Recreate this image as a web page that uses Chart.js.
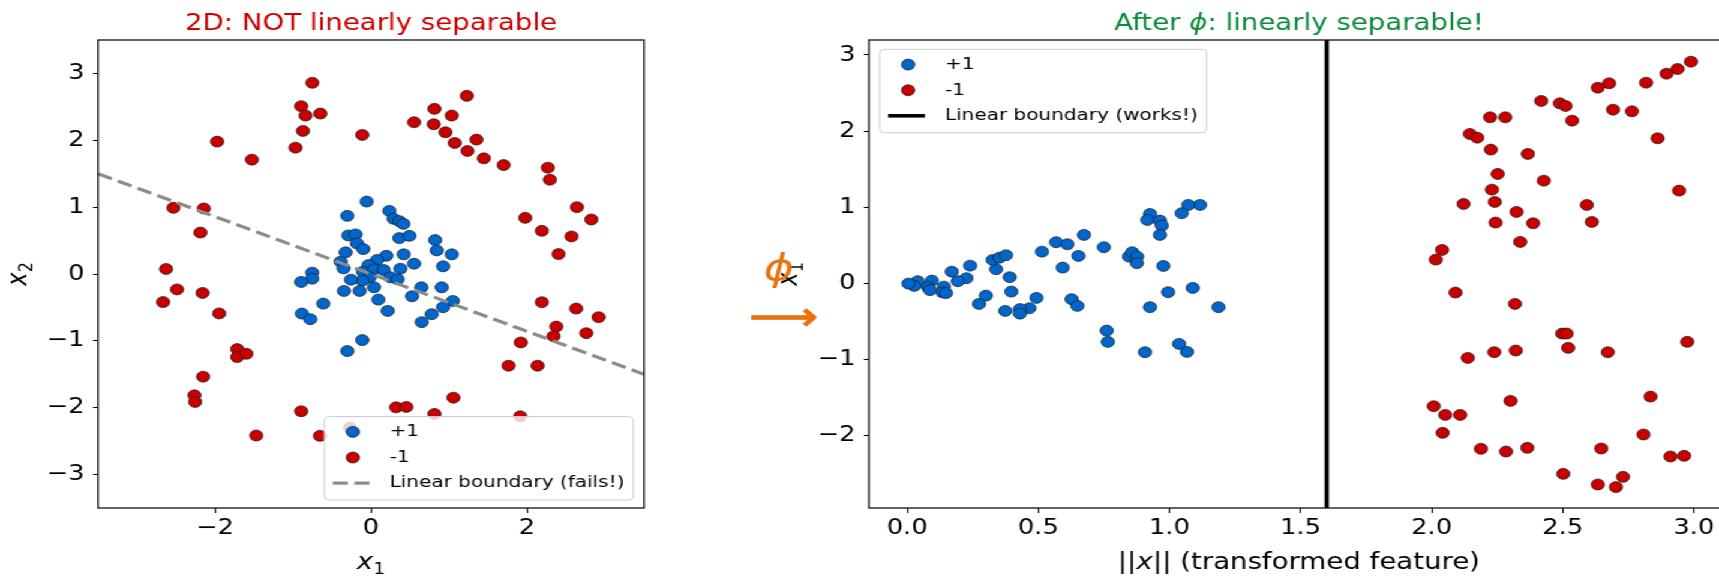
<!DOCTYPE html>
<html>
<head>
<meta charset="utf-8">
<script src="https://cdn.jsdelivr.net/npm/chart.js@4.4.1/dist/chart.umd.min.js"></script>
<style>
  html, body { margin: 0; padding: 0; background: #fff; overflow: hidden; }
  body { width: 1719px; height: 577px; position: relative; }
  /* the source figure is stretched ~1.2x horizontally, so draw narrow and stretch */
  #stage { position: absolute; left: 0; top: 0; width: 1480px; height: 577px;
           transform: scaleX(1.2); transform-origin: 0 0; }
  #left { position: absolute; left: 0; top: 0; }
  #right { position: absolute; left: 620px; top: 0; }
</style>
</head>
<body>
<div id="stage">
  <canvas id="left" width="600" height="577"></canvas>
  <canvas id="right" width="860" height="577"></canvas>
</div>
<script>
// ---- left panel: raw points (x1, x2) ----
const leftBlue = [
  [-0.056, 1.084], [-0.304, 0.87], [0.235, 0.944], [0.29, 0.825], [0.363, 0.79], [0.415, 0.75],
  [-0.291, 0.577], [-0.198, 0.592], [-0.18, 0.458], [-0.099, 0.373], [0.363, 0.537], [0.492, 0.571],
  [0.822, 0.507], [0.842, 0.353], [1.035, 0.294], [-0.326, 0.324], [-0.39, 0.184], [-0.352, 0.085],
  [-0.754, 0.02], [-0.754, -0.07], [-0.895, -0.119], [0.196, 0.273], [0.419, 0.294], [0.552, 0.154],
  [0.924, 0.115], [0.077, 0.209], [-0.031, 0.134], [-0.103, 0.034], [0.042, 0.07], [0.162, 0.06],
  [0.376, 0.079], [-0.018, -0.049], [-0.112, -0.1], [-0.257, -0.085], [0.248, -0.049], [0.341, -0.079],
  [0.038, -0.199], [-0.347, -0.254], [-0.146, -0.254], [0.094, -0.383], [0.213, -0.552], [0.646, -0.199],
  [0.526, -0.333], [0.906, -0.199], [1.048, -0.403], [0.924, -0.497], [0.778, -0.601], [0.65, -0.72],
  [-0.612, -0.443], [-0.886, -0.592], [-0.779, -0.676], [-0.112, -0.989], [-0.304, -1.153]
];
const leftRed = [
  [-0.753, 2.86], [-0.895, 2.51], [-0.84, 2.37], [-0.65, 2.4], [-0.873, 2.14], [-0.968, 1.89],
  [-1.973, 1.98], [-1.528, 1.71], [-0.112, 2.08], [0.552, 2.27], [0.813, 2.47], [0.804, 2.24],
  [1.035, 2.37], [1.228, 2.665], [0.954, 2.12], [1.073, 1.96], [1.352, 2.01], [1.236, 1.84],
  [1.446, 1.73], [1.7, 1.63], [2.267, 1.59], [2.293, 1.41], [-2.534, 0.99], [-2.144, 0.98],
  [-2.187, 0.62], [-2.628, 0.075], [-2.487, -0.23], [-2.16, -0.283], [-2.666, -0.42], [-1.947, -0.59],
  [-1.716, -1.123], [-1.716, -1.242], [-1.598, -1.193], [1.977, 0.84], [2.64, 1.0], [2.824, 0.815],
  [2.19, 0.646], [2.571, 0.562], [2.404, 0.298], [2.19, -0.422], [2.63, -0.517], [2.918, -0.646],
  [2.375, -0.786], [2.34, -0.93], [2.76, -0.885], [1.92, -1.024], [1.763, -1.372], [2.135, -1.372],
  [-2.153, -1.536], [-2.264, -1.815], [-2.255, -1.914], [-0.895, -2.053], [0.321, -1.994], [0.453, -1.988],
  [1.056, -1.85], [0.813, -2.093], [1.913, -2.128], [-1.472, -2.416], [-0.655, -2.421], [-0.27, -2.3]
];
const leftBoundary = [[-3.5, 1.5], [3.5, -1.5]];
const leftLimits = [-3.5, 3.5];
const leftXTicks = [-2, 0, 2];
const leftYTicks = [-3, -2, -1, 0, 1, 2, 3];

// ---- right panel: (||x||, x1) ----
const rightBlue = [
  [1.117, 1.029], [1.072, 1.029], [1.047, 0.92], [0.926, 0.91], [0.916, 0.832], [0.964, 0.823],
  [0.971, 0.757], [0.964, 0.635], [0.674, 0.635], [0.568, 0.539], [0.611, 0.512], [0.75, 0.473],
  [0.514, 0.415], [0.653, 0.359], [0.593, 0.205], [0.846, 0.35], [0.858, 0.407], [0.877, 0.35],
  [0.876, 0.263], [0.977, 0.227], [0.995, -0.118], [1.089, -0.062], [1.187, -0.315], [0.926, -0.315],
  [0.761, -0.623], [0.765, -0.771], [0.907, -0.907], [1.037, -0.798], [1.067, -0.903], [0.627, -0.21],
  [0.649, -0.298], [0.493, -0.193], [0.466, -0.329], [0.43, -0.34], [0.43, -0.4], [0.374, -0.364],
  [0.397, -0.11], [0.391, 0.079], [0.339, 0.184], [0.326, 0.306], [0.352, 0.336], [0.377, 0.368],
  [0.3, -0.163], [0.274, -0.272], [0.24, 0.231], [0.226, 0.066], [0.193, 0.026], [0.17, 0.152],
  [0.14, -0.045], [0.135, -0.12], [0.148, -0.13], [0.094, 0.034], [0.079, -0.05], [0.087, -0.09],
  [0.04, 0.026], [0.027, -0.035], [0.005, -0.005]
];
const rightRed = [
  [2.989, 2.912], [2.938, 2.816], [2.896, 2.754], [2.818, 2.636], [2.677, 2.628], [2.634, 2.57],
  [2.692, 2.281], [2.764, 2.26], [2.418, 2.396], [2.489, 2.365], [2.511, 2.33], [2.536, 2.137],
  [2.223, 2.181], [2.281, 2.181], [2.146, 1.962], [2.174, 1.913], [2.862, 1.905], [2.226, 1.756],
  [2.367, 1.699], [2.252, 1.436], [2.428, 1.348], [2.944, 1.217], [2.23, 1.23], [2.122, 1.042],
  [2.241, 1.068], [2.592, 1.029], [2.324, 0.937], [2.244, 0.797], [2.387, 0.788], [2.611, 0.806],
  [2.338, 0.543], [2.04, 0.438], [2.016, 0.31], [2.091, -0.123], [2.318, -0.272], [2.498, -0.662],
  [2.515, -0.662], [2.521, -0.85], [2.975, -0.771], [2.138, -0.982], [2.239, -0.907], [2.321, -0.885],
  [2.672, -0.907], [2.835, -1.49], [2.301, -1.547], [2.008, -1.617], [2.052, -1.731], [2.109, -1.731],
  [2.042, -1.967], [2.808, -1.989], [2.188, -2.177], [2.284, -2.213], [2.365, -2.164], [2.647, -2.173],
  [2.911, -2.278], [2.963, -2.269], [2.502, -2.506], [2.634, -2.646], [2.703, -2.68], [2.73, -2.545]
];
const boundaryX = 1.6;
const rightXLimits = [-0.146, 3.134];
const rightYLimits = [-2.955, 3.197];
const rightXTicks = [0, 0.5, 1, 1.5, 2, 2.5, 3];
const rightYTicks = [-2, -1, 0, 1, 2, 3];

const BLUE = '#0066cc';
const RED = '#c80000';
const EDGE = '#1a1a1a';
const TITLE_RED = '#cc0000';
const TITLE_GREEN = '#0b8a3b';
const ORANGE = '#e8720e';

const F = (size, style) => `${style || ''} ${size}px "DejaVu Sans"`;
const toXY = (pts) => pts.map(([x, y]) => ({ x, y }));
const minus = (s) => String(s).replace('-', '\u2212');

function marker(color) {
  return {
    backgroundColor: color,
    borderColor: EDGE,
    pointRadius: 5.5,
    pointBorderWidth: 0.7,
    pointHoverRadius: 5.5,
  };
}

function axis(limits, ticks, fmt, size, tickLen) {
  return {
    type: 'linear',
    min: limits[0],
    max: limits[1],
    afterBuildTicks: (s) => { s.ticks = ticks.map((v) => ({ value: v })); },
    afterFit: (s) => { if (s.isHorizontal()) s.height = size; else s.width = size; },
    border: { display: false },
    grid: { display: true, drawOnChartArea: false, drawTicks: true, tickLength: tickLen, tickColor: '#000', tickWidth: 1.1 },
    ticks: { color: '#000', font: { family: 'DejaVu Sans', size: 21.5 }, padding: tickLen > 4.5 ? 3 : 7,
             callback: fmt, autoSkip: false, maxRotation: 0 },
  };
}

function drawRuns(ctx, runs, x, y, align) {
  let total = 0;
  runs.forEach((r) => { ctx.font = r[1]; total += ctx.measureText(r[0]).width; });
  let cx = align === 'center' ? x - total / 2 : x;
  ctx.textAlign = 'left';
  runs.forEach((r) => {
    ctx.font = r[1];
    ctx.fillText(r[0], cx, y + (r[2] || 0));
    cx += ctx.measureText(r[0]).width;
  });
}

function drawFrame(ctx, a) {
  ctx.save();
  ctx.strokeStyle = '#111';
  ctx.lineWidth = 1.3;
  ctx.strokeRect(a.left, a.top, a.right - a.left, a.bottom - a.top);
  ctx.restore();
}

function drawYLabel(ctx, a, runs) {
  ctx.save();
  ctx.fillStyle = '#000';
  ctx.textBaseline = 'alphabetic';
  ctx.translate(a.left - 59.7, (a.top + a.bottom) / 2);
  ctx.rotate(-Math.PI / 2);
  drawRuns(ctx, runs, 0, 0, 'center');
  ctx.restore();
}

// matplotlib-style legend box: items are {label, color} or {label, line}
function drawLegend(ctx, box, items) {
  ctx.save();
  ctx.font = F(16.7);
  const textW = Math.max(...items.map((it) => ctx.measureText(it.label).width));
  const w = 54.4 + textW + 7.4;
  const h = 83.4;
  const left = box.right !== undefined ? box.right - w : box.left;
  const top = box.bottom !== undefined ? box.bottom - h : box.top;
  ctx.beginPath();
  ctx.roundRect(left, top, w, h, 4);
  ctx.fillStyle = 'rgba(255,255,255,0.8)';
  ctx.fill();
  ctx.strokeStyle = '#cccccc';
  ctx.lineWidth = 1;
  ctx.stroke();
  items.forEach((it, i) => {
    const y = top + 15.3 + i * 25.6;
    if (it.color) {
      ctx.beginPath();
      ctx.arc(left + 23.8, y, 5.5, 0, Math.PI * 2);
      ctx.fillStyle = it.color;
      ctx.fill();
      ctx.strokeStyle = EDGE;
      ctx.lineWidth = 0.7;
      ctx.stroke();
    } else {
      ctx.beginPath();
      ctx.setLineDash(it.line.dash || []);
      ctx.moveTo(left + 7.1, y);
      ctx.lineTo(left + 37.8, y);
      ctx.strokeStyle = it.line.color;
      ctx.lineWidth = it.line.width;
      ctx.stroke();
      ctx.setLineDash([]);
    }
    ctx.fillStyle = '#000';
    ctx.font = F(16.7);
    ctx.textAlign = 'left';
    ctx.textBaseline = 'middle';
    ctx.fillText(it.label, left + 54.4, y);
  });
  ctx.restore();
}

const DASH = [12.5, 5.5];
const GRAY = '#8c8c8c';

const leftDecor = {
  id: 'leftDecor',
  afterDraw(chart) {
    const { ctx, chartArea: a } = chart;
    const cx = (a.left + a.right) / 2;
    drawLegend(ctx, { right: a.right - 8.9, bottom: a.bottom - 8 }, [
      { label: '+1', color: BLUE },
      { label: '-1', color: RED },
      { label: 'Linear boundary (fails!)', line: { color: GRAY, width: 3.2, dash: DASH } },
    ]);
    drawFrame(ctx, a);
    ctx.save();
    ctx.textBaseline = 'alphabetic';
    ctx.fillStyle = TITLE_RED;
    drawRuns(ctx, [['2D: NOT linearly separable', F(23)]], cx, 30, 'center');
    ctx.fillStyle = '#000';
    drawRuns(ctx, [['x', F(23, 'italic')], ['1', F(16), 5]], cx, 569, 'center');
    ctx.restore();
    drawYLabel(ctx, a, [['x', F(23, 'italic')], ['2', F(16), 5]]);
  },
};

const rightDecor = {
  id: 'rightDecor',
  afterDraw(chart) {
    const { ctx, chartArea: a } = chart;
    const cx = (a.left + a.right) / 2;
    drawLegend(ctx, { left: a.left + 8.9, top: a.top + 9.3 }, [
      { label: '+1', color: BLUE },
      { label: '-1', color: RED },
      { label: 'Linear boundary (works!)', line: { color: '#000', width: 3.6 } },
    ]);
    drawFrame(ctx, a);
    ctx.save();
    ctx.textBaseline = 'alphabetic';
    ctx.fillStyle = TITLE_GREEN;
    drawRuns(ctx, [['After ', F(23)], ['\u03D5', F(23, 'italic')], [': linearly separable!', F(23)]], cx, 30, 'center');
    ctx.fillStyle = '#000';
    drawRuns(ctx, [['||', F(23)], ['x', F(23, 'italic')], ['|| (transformed feature)', F(23)]], cx, 569, 'center');
    ctx.restore();
    drawYLabel(ctx, a, [['x', F(23, 'italic')], ['1', F(16), 5]]);
    // phi mapping annotation
    ctx.save();
    ctx.fillStyle = ORANGE;
    ctx.strokeStyle = ORANGE;
    ctx.lineWidth = 1.1;
    ctx.textAlign = 'center';
    ctx.textBaseline = 'middle';
    ctx.font = F(38, 'italic');
    ctx.fillText('\u03D5', a.left - 75, 270);
    ctx.font = F(40);
    ctx.fillText('\u27F6', a.left - 71, 320);
    ctx.strokeText('\u27F6', a.left - 71, 320);
    ctx.restore();
  },
};

new Chart(document.getElementById('left'), {
  type: 'scatter',
  data: {
    datasets: [
      { label: 'Linear boundary (fails!)', data: toXY(leftBoundary), showLine: true, borderColor: GRAY,
        borderWidth: 3.2, borderDash: DASH, pointRadius: 0, order: 0 },
      { label: '+1', data: toXY(leftBlue), ...marker(BLUE), order: 2 },
      { label: '-1', data: toXY(leftRed), ...marker(RED), order: 1 },
    ],
  },
  options: {
    responsive: false,
    animation: false,
    devicePixelRatio: 1,
    layout: { padding: { left: 0, top: 40, right: 63.3, bottom: 0 } },
    plugins: { legend: { display: false }, tooltip: { enabled: false } },
    scales: {
      x: axis(leftLimits, leftXTicks, (v) => minus(v), 69, 5),
      y: axis(leftLimits, leftYTicks, (v) => minus(v), 81.7, 4.2),
    },
  },
  plugins: [leftDecor],
});

new Chart(document.getElementById('right'), {
  type: 'scatter',
  data: {
    datasets: [
      { label: 'Linear boundary (works!)',
        data: [{ x: boundaryX, y: rightYLimits[0] }, { x: boundaryX, y: rightYLimits[1] }],
        showLine: true, borderColor: '#000', borderWidth: 3.6, pointRadius: 0, order: 0 },
      { label: '+1', data: toXY(rightBlue), ...marker(BLUE), order: 2 },
      { label: '-1', data: toXY(rightRed), ...marker(RED), order: 1 },
    ],
  },
  options: {
    responsive: false,
    animation: false,
    devicePixelRatio: 1,
    layout: { padding: { left: 0, top: 40, right: 39.2, bottom: 0 } },
    plugins: { legend: { display: false }, tooltip: { enabled: false } },
    scales: {
      x: axis(rightXLimits, rightXTicks, (v) => v.toFixed(1), 69, 5),
      y: axis(rightYLimits, rightYTicks, (v) => minus(v), 104.1, 4.2),
    },
  },
  plugins: [rightDecor],
});
</script>
</body>
</html>
